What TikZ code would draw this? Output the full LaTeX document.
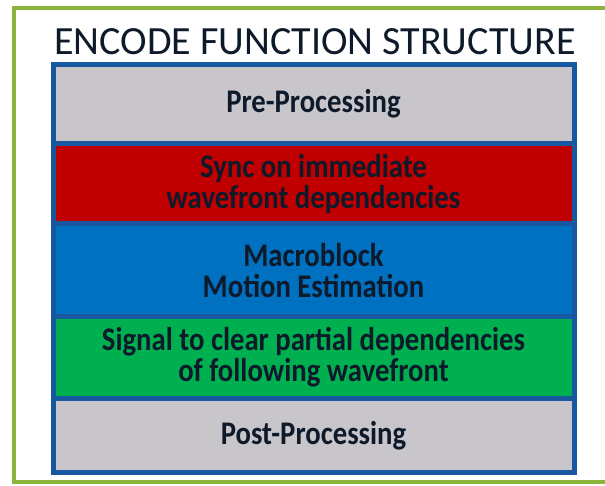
\documentclass[tikz,border=0pt]{standalone}
\usepackage{fontspec}
\setmainfont{Carlito}
\newfontfamily\bandfont{Carlito}[FakeStretch=0.87]
\usetikzlibrary{positioning}

\definecolor{framegreen}{RGB}{138,180,60}
\definecolor{edgeblue}{RGB}{24,88,160}
\definecolor{bandgray}{RGB}{200,198,202}
\definecolor{bandred}{RGB}{192,0,0}
\definecolor{bandblue}{RGB}{0,112,192}
\definecolor{bandgreen}{RGB}{0,176,80}
\definecolor{inktext}{RGB}{14,26,42}

\begin{document}
\begin{tikzpicture}[x=1pt, y=1pt,
    band/.style={draw=edgeblue, line width=5pt, minimum width=521pt,
        inner sep=0pt, outer sep=0pt, align=center, text=inktext,
        font=\bandfont\bfseries\fontsize{33}{31}\selectfont}]
    \useasboundingbox (0,0) rectangle (605,485);
    % outer frame, open on the right
    \draw[framegreen, line width=4pt] (605,476.5) -- (14,476.5) -- (14,3.5) -- (605,3.5);
    \node[anchor=base, text=inktext, font=\fontsize{40}{41}\selectfont] (title) at (315,430) {ENCODE FUNCTION STRUCTURE};
    % stacked stages
    \node[band, fill=bandgray, minimum height=79pt, anchor=north] (pre) at (313.5,420.5) {Pre-Processing};
    \node[band, fill=bandred, minimum height=80.5pt, below=0pt of pre] (sync) {Sync on immediate\\wavefront dependencies};
    \node[band, fill=bandblue, minimum height=93pt, below=0pt of sync] (me) {Macroblock\\Motion Estimation};
    \node[band, fill=bandgreen, minimum height=81pt, below=0pt of me] (signal) {Signal to clear partial dependencies\\of following wavefront};
    \node[band, fill=bandgray, minimum height=74.5pt, below=0pt of signal] (post) {Post-Processing};
\end{tikzpicture}
\end{document}
